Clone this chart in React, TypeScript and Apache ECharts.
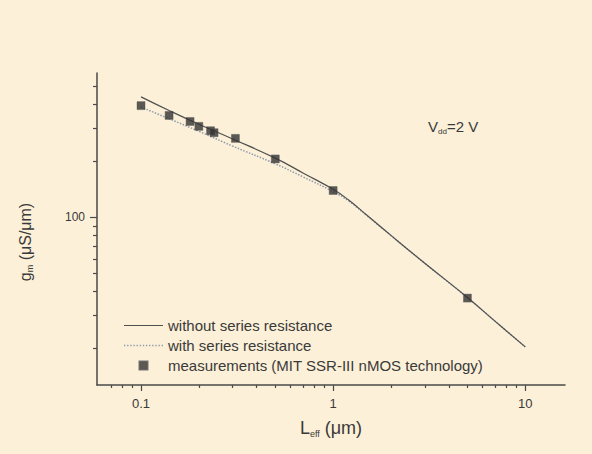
import React, { useEffect, useRef } from "react";
import * as echarts from "echarts";

// Effective channel length L_eff (µm) and transconductance g_m (µS/µm)
const lengthsCurve = [0.1, 0.14, 0.2, 0.3, 0.5, 0.7, 1, 1.2, 1.5, 2, 3, 5, 7, 10];
const gmWithoutRs = [440, 372, 314, 262, 207, 172, 141, 124, 102.5, 80, 56.8, 37.3, 27.7, 20.3];
const gmWithRs = [388, 336, 288, 240, 193, 164, 137, 122.5, 102, 79.8, 56.7, 37.2, 27.7, 20.3];

const lengthsMeas = [0.1, 0.14, 0.18, 0.2, 0.23, 0.24, 0.31, 0.5, 1.0, 5.0];
const gmMeas = [395, 350, 325, 306, 290, 283, 264, 205, 139, 37];

const xMajorTicks = [0.1, 1, 10];
const xMinorTicks = [0.07, 0.08, 0.09, 0.2, 0.3, 0.4, 0.5, 0.6, 0.7, 0.8, 0.9, 2, 3, 4, 5, 6, 7, 8, 9];
const yMajorTicks = [100];
const yMinorTicks = [20, 30, 40, 50, 60, 70, 80, 90, 200, 300, 400, 500];

const FONT = "'Liberation Sans', Arial, sans-serif";
const TEXT = "#3a3a3a";
const AXIS = "#4a4a4a";

function dottedIconPath(): string {
  let d = "path://";
  for (let x = 0; x < 40; x += 3.2) d += `M${x},0h1.4v1.4h-1.4z`;
  return d;
}

export default function App() {
  const ref = useRef<HTMLDivElement>(null);
  useEffect(() => {
    if (!ref.current) return;
    const chart = echarts.init(ref.current, undefined, { renderer: "svg" });
    const xMin = 0.059, xMax = 16.1, yMin = 12.7, yMax = 590;
    const axisLine = { lineStyle: { color: AXIS, width: 1.5 } };
    chart.setOption({
      animation: false,
      backgroundColor: "#fcf0d8",
      grid: { left: 97, right: 27, top: 73, bottom: 69, containLabel: false, outerBoundsMode: "none" },
      legend: {
        orient: "vertical",
        left: 124,
        top: 318,
        padding: 0,
        itemWidth: 39,
        itemHeight: 8,
        itemGap: 5,
        textStyle: { fontSize: 15, color: TEXT, fontFamily: FONT, lineHeight: 15 },
        data: [
          { name: "without series resistance", icon: "path://M0,0H40V1.1H0Z" },
          { name: "with series resistance", icon: dottedIconPath() },
          { name: "measurements (MIT SSR-III nMOS technology)", icon: "path://M0,0H1V1H0Z" },
        ],
      },
      xAxis: [
        {
          type: "log", logBase: 10, min: xMin, max: xMax, position: "bottom",
          axisLine,
          axisTick: { customValues: xMajorTicks, length: 6, lineStyle: { color: AXIS, width: 1.2 } },
          axisLabel: { customValues: xMajorTicks, formatter: (v: number) => String(v), margin: 12, fontSize: 13, color: TEXT, fontFamily: FONT },
          splitLine: { show: false },
          minorTick: { show: false },
          name: "L{s|eff} (μm)",
          nameLocation: "middle",
          nameGap: 33,
          nameMoveOverlap: false,
          nameTextStyle: {
            fontSize: 18, color: TEXT, fontFamily: FONT,
            rich: { s: { fontSize: 9, color: TEXT, fontFamily: FONT, padding: [11, 0, 0, 0] } },
          },
        },
        {
          type: "log", logBase: 10, min: xMin, max: xMax, position: "bottom",
          axisLine: { show: false },
          axisTick: { customValues: xMinorTicks, length: 3, lineStyle: { color: AXIS, width: 1.2 } },
          axisLabel: { show: false },
          splitLine: { show: false },
        },
      ],
      yAxis: [
        {
          type: "log", logBase: 10, min: yMin, max: yMax, position: "left",
          axisLine,
          axisTick: { customValues: yMajorTicks, length: 7, lineStyle: { color: AXIS, width: 1.2 } },
          axisLabel: { customValues: yMajorTicks, formatter: (v: number) => String(v), margin: 12, fontSize: 12, color: TEXT, fontFamily: FONT },
          splitLine: { show: false },
          minorTick: { show: false },
          name: "g{s|m} (μS/μm)",
          nameLocation: "middle",
          nameGap: 63,
          nameMoveOverlap: false,
          nameTextStyle: {
            fontSize: 16, color: TEXT, fontFamily: FONT, padding: [0, 26, 0, 0],
            rich: { s: { fontSize: 9, color: TEXT, fontFamily: FONT, padding: [9, 0, 0, 0] } },
          },
        },
        {
          type: "log", logBase: 10, min: yMin, max: yMax, position: "left",
          axisLine: { show: false },
          axisTick: { customValues: yMinorTicks, length: 4, lineStyle: { color: AXIS, width: 1.2 } },
          axisLabel: { show: false },
          splitLine: { show: false },
        },
      ],
      graphic: [
        {
          type: "text",
          left: 428,
          top: 119,
          style: {
            text: "V{s|dd}=2 V",
            fontSize: 15,
            fill: TEXT,
            fontFamily: FONT,
            rich: { s: { fontSize: 8, fill: TEXT, fontFamily: FONT, padding: [9, 0, 0, 0] } },
          },
        },
      ],
      series: [
        {
          name: "without series resistance",
          type: "line",
          data: lengthsCurve.map((l, i) => [l, gmWithoutRs[i]]),
          symbol: "none",
          smooth: 0.45,
          lineStyle: { color: "#505050", width: 1.2, type: "solid" },
          itemStyle: { color: "#505050" },
          z: 3,
        },
        {
          name: "with series resistance",
          type: "line",
          data: lengthsCurve.map((l, i) => [l, gmWithRs[i]]),
          symbol: "none",
          smooth: 0.45,
          lineStyle: { color: "#8d9bab", width: 1.5, type: "dotted" },
          itemStyle: { color: "#8d9bab" },
          z: 2,
        },
        {
          name: "measurements (MIT SSR-III nMOS technology)",
          type: "scatter",
          data: lengthsMeas.map((l, i) => [l, gmMeas[i]]),
          symbol: "rect",
          symbolSize: 8,
          itemStyle: { color: "#333333", borderColor: "#555", borderWidth: 0.5 },
          z: 4,
        },
      ],
    });
    return () => chart.dispose();
  }, []);
  return <div ref={ref} style={{ position: "fixed", left: 0, top: 0, width: 592, height: 454 }} />;
}
